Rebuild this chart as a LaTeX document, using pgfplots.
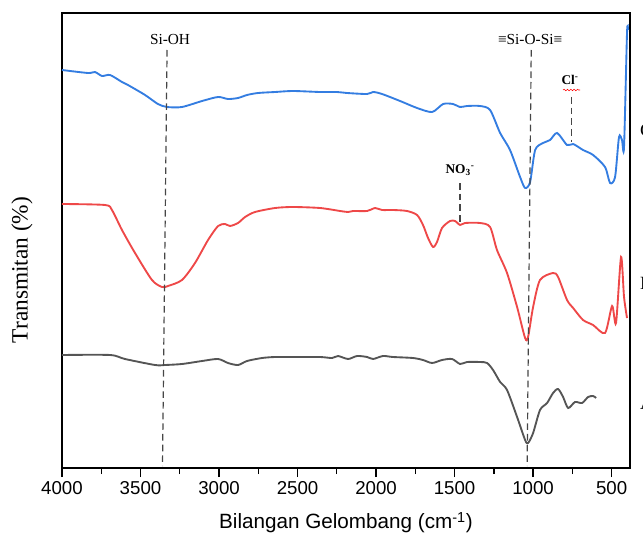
\documentclass[border=0pt]{standalone}
\usepackage{fontspec}
\setmainfont{Liberation Serif}
\setsansfont{Liberation Sans}
\usepackage{pgfplots}
\pgfplotsset{compat=1.18}
\usetikzlibrary{decorations.pathmorphing}
\definecolor{cblue}{RGB}{52,125,225}
\definecolor{cred}{RGB}{238,72,72}
\definecolor{cgray}{RGB}{85,85,85}
\definecolor{cdash}{RGB}{70,70,70}

\begin{document}
\begin{tikzpicture}
\begin{axis}[
    scale only axis,
    width=426pt, height=341.25pt,
    x dir=reverse,
    xmin=383, xmax=4000,
    ymin=0, ymax=455,
    xtick={500,1000,...,4000},
    minor xtick={750,1250,...,3750},
    ytick=\empty,
    xtick pos=bottom,
    tick align=outside,
    major tick length=6.75pt,
    minor tick length=4.5pt,
    axis line style={line width=1.2pt},
    every tick/.style={black, line width=1pt},
    /pgf/number format/assume math mode=true,
    /pgf/number format/1000 sep={},
    tick label style={font=\sffamily\fontsize{14}{16}\selectfont},
    xlabel={Bilangan Gelombang (cm\textsuperscript{-1})},
    ylabel={Transmitan (\%)},
    every axis x label/.style={at={(axis description cs:0.5,0)}, yshift=-41pt, anchor=center, font=\sffamily\fontsize{15.5}{18}\selectfont},
    every axis y label/.style={at={(axis description cs:0,0.435)}, xshift=-30pt, rotate=90, anchor=center, font=\fontsize{17.5}{20}\selectfont},
    clip=false,
    every axis plot/.append style={line width=1.4pt, smooth, tension=0.45},
]
% C
\addplot[cblue] coordinates {
(4000,398) (3834,395) (3790,396) (3745,392) (3694,393) (3618,386) (3580,383)
(3471,373) (3389,364) (3331,361) (3236,361) (3108,367) (3006,371) (2943,369)
(2879,370) (2822,373) (2752,375) (2643,376) (2529,377) (2357,376) (2249,376)
(2185,375) (2057,374) (2019,376) (1962,374) (1847,367) (1739,360) (1643,356)
(1573,364) (1510,364) (1465,361) (1421,362) (1338,362) (1274,358) (1210,335)
(1147,318) (1083,291) (1051,280) (1019,286) (987,318) (937,325) (892,328)
(847,335) (784,323) (745,324) (682,318) (618,313) (542,301) (510,285)
(478,291) (453,331) (434,328) (421,321) (402,435) (395,438)
};
% B
\addplot[cred] coordinates {
(4000,264) (3726,263) (3682,258) (3618,238) (3535,215) (3427,188) (3363,181)
(3325,182) (3236,188) (3153,205) (3070,228) (3006,242) (2962,244) (2930,242)
(2879,245) (2834,251) (2771,256) (2643,260) (2529,261) (2357,260) (2229,257)
(2178,256) (2147,257) (2057,257) (2006,260) (1962,258) (1892,258) (1803,257)
(1739,253) (1701,243) (1669,230) (1637,221) (1612,226) (1580,240) (1529,247)
(1497,247) (1465,243) (1433,245) (1338,245) (1274,241) (1230,218) (1166,195)
(1102,161) (1051,130) (1032,131) (1000,161) (956,188) (873,195) (841,191)
(784,168) (745,160) (682,148) (618,143) (542,135) (497,162) (472,145)
(440,211) (421,171) (402,150)
};
% A
\addplot[cgray] coordinates {
(4000,113) (3694,113) (3599,109) (3408,103) (3344,103) (3236,104) (3108,107)
(3006,109) (2943,105) (2879,103) (2822,107) (2726,110) (2643,111) (2529,111)
(2357,111) (2280,110) (2242,112) (2178,109) (2121,112) (2057,111) (2019,109)
(1956,112) (1892,111) (1765,110) (1701,108) (1643,105) (1580,108) (1516,109)
(1465,104) (1421,106) (1338,106) (1293,105) (1255,98) (1210,86) (1166,78)
(1102,51) (1051,28) (1032,25) (1000,35) (956,58) (911,65) (873,75) (841,79)
(809,71) (777,60) (733,66) (688,65) (650,71) (618,72) (599,70)
};
% marker lines
\addplot[cdash, line width=0.9pt, dash pattern=on 5pt off 3pt, sharp plot] coordinates {(3331,418) (3360,2)};
\addplot[cdash, line width=0.9pt, dash pattern=on 5pt off 3pt, sharp plot] coordinates {(1012,418) (1038,2)};
\addplot[cdash, line width=0.9pt, dash pattern=on 5pt off 3pt, sharp plot] coordinates {(758,371) (758,326)};
\addplot[cdash, line width=0.9pt, dash pattern=on 5pt off 3pt, sharp plot] coordinates {(1465,285) (1465,243)};

\node[font=\fontsize{11.5}{13}\selectfont] at (axis cs:3312,428) {Si-OH};
\node[font=\fontsize{11.5}{13}\selectfont] at (axis cs:1019,428) {≡Si-O-Si≡};
\node[font=\bfseries\fontsize{10}{12}\selectfont] at (axis cs:764,388) {Cl\textsuperscript{-}};
\draw[red, line width=0.4pt, decorate, decoration={snake, amplitude=0.6pt, segment length=2.5pt}] (axis cs:809,378) -- (axis cs:701,378);
\node[font=\bfseries\fontsize{10}{12}\selectfont] at (axis cs:1465,298) {NO\textsubscript{3}\textsuperscript{-}};

\node[anchor=west, xshift=4pt, font=\fontsize{14}{16}\selectfont] at (axis cs:383,338) {C};
\node[anchor=west, xshift=4pt, font=\fontsize{14}{16}\selectfont] at (axis cs:383,185) {B};
\node[anchor=west, xshift=4pt, font=\fontsize{14}{16}\selectfont] at (axis cs:383,65) {A};
\end{axis}
\pgfresetboundingbox
\useasboundingbox ([xshift=-46.5pt,yshift=-51pt]current axis.south west) rectangle ([xshift=9.75pt,yshift=9.75pt]current axis.north east);
\end{tikzpicture}
\end{document}
